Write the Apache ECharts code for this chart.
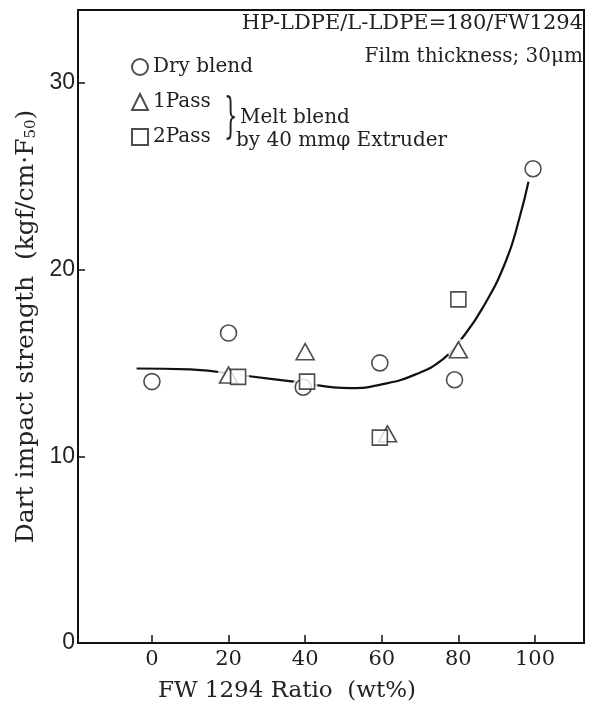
<!DOCTYPE html>
<html>
<head>
<meta charset="utf-8">
<script src="https://cdn.jsdelivr.net/npm/echarts@6/dist/echarts.min.js"></script>
<style>
html,body{margin:0;padding:0;background:#fff;}
#chart{width:606px;height:718px;}
</style>
</head>
<body>
<div id="chart"></div>
<script>
// ---- data ----
const dryX = [0, 20, 39.5, 59.5, 79, 99.5];
const dryY = [14.0, 16.6, 13.7, 15.0, 14.1, 25.4];
const pass1X = [20, 40, 61.5, 80];
const pass1Y = [14.35, 15.6, 11.2, 15.7];
const pass2X = [22.5, 40.5, 59.5, 80];
const pass2Y = [14.25, 14.0, 11.0, 18.4];
const curveX = [-4, 10, 25, 37, 52, 60, 69, 76, 80.5, 86.5, 92.5, 96, 98.3];
const curveY = [14.7, 14.65, 14.3, 14.0, 13.65, 13.85, 14.4, 15.2, 16.2, 18.0, 20.5, 22.8, 24.7];
const xTicks = [0, 20, 40, 60, 80, 100];
const yTicks = [0, 10, 20, 30];
const seriesNames = ['Dry blend', '1Pass', '2Pass'];

const zip = (xs, ys) => xs.map((x, i) => [x, ys[i]]);
const SERIF = 'DejaVu Serif';
const markerStyle = {color: '#fff', borderColor: '#222', borderWidth: 1.6};
const haloStyle = {color: '#fff', borderColor: '#fff', borderWidth: 0};

const chart = echarts.init(document.getElementById('chart'), null, {renderer: 'canvas'});
chart.setOption({
  animation: false,
  backgroundColor: '#fff',
  grid: {left: 78, right: 22, top: 10, bottom: 75, show: true, borderColor: '#111', borderWidth: 2},
  xAxis: {
    type: 'value', min: -19.3, max: 112.8,
    splitLine: {show: false},
    axisLine: {show: true, onZero: false, lineStyle: {color: '#111', width: 2}},
    axisTick: {show: true, inside: true, length: 8, lineStyle: {color: '#111', width: 1.5}, customValues: xTicks},
    axisLabel: {customValues: xTicks, color: '#222', fontFamily: SERIF, fontSize: 21, margin: 6},
    name: 'FW 1294 Ratio  (wt%)',
    nameLocation: 'middle', nameGap: 37,
    nameTextStyle: {fontFamily: SERIF, fontSize: 23, color: '#222', padding: [0, 88, 0, 0]}
  },
  yAxis: {
    type: 'value', min: 0, max: 33.9,
    splitLine: {show: false},
    axisLine: {show: true, onZero: false, lineStyle: {color: '#111', width: 2}},
    axisTick: {show: true, inside: true, length: 7, lineStyle: {color: '#111', width: 1.5}, customValues: yTicks},
    axisLabel: {customValues: yTicks, color: '#222', fontFamily: 'Liberation Sans', fontSize: 23, margin: 3},
    name: 'Dart impact strength  (kgf/cm·F{s|50})',
    nameLocation: 'middle', nameGap: 37, nameRotate: 90,
    nameTextStyle: {fontFamily: SERIF, fontSize: 25, color: '#222',
      rich: {s: {fontFamily: SERIF, fontSize: 15, color: '#222', verticalAlign: 'bottom'}}}
  },
  legend: {
    orient: 'vertical', left: 126, top: 51, itemGap: 13, itemWidth: 16, itemHeight: 16,
    data: seriesNames,
    textStyle: {fontFamily: SERIF, fontSize: 20, color: '#222', lineHeight: 22}
  },
  graphic: [
    {type: 'text', x: 583, y: 24, style: {text: 'HP-LDPE/L-LDPE=180/FW1294', align: 'right', verticalAlign: 'middle', font: '21px "DejaVu Serif"', fill: '#222'}},
    {type: 'text', x: 583, y: 57, style: {text: 'Film thickness; 30μm', align: 'right', verticalAlign: 'middle', font: '20px "DejaVu Serif"', fill: '#222'}},
    {type: 'text', x: 224, y: 120, scaleX: 0.7, scaleY: 1.6, style: {text: '}', align: 'left', verticalAlign: 'middle', font: '30px "DejaVu Serif"', fill: '#222'}},
    {type: 'text', x: 240, y: 118, style: {text: 'Melt blend', align: 'left', verticalAlign: 'middle', font: '20px "DejaVu Serif"', fill: '#222'}},
    {type: 'text', x: 236, y: 141, style: {text: 'by 40 mmφ Extruder', align: 'left', verticalAlign: 'middle', font: '20px "DejaVu Serif"', fill: '#222'}}
  ],
  series: [
    {type: 'line', name: 'curve', data: zip(curveX, curveY), smooth: 0.5, showSymbol: false, symbol: 'none',
     lineStyle: {color: '#111', width: 2.2}, z: 1, silent: true},
    {type: 'scatter', name: 'halo1', data: zip(pass1X, pass1Y), symbol: 'circle', symbolSize: 22, itemStyle: haloStyle, z: 2, silent: true},
    {type: 'scatter', name: 'halo2', data: zip(pass2X, pass2Y), symbol: 'circle', symbolSize: 22, itemStyle: haloStyle, z: 2, silent: true},
    {type: 'scatter', name: 'halo0', data: zip(dryX, dryY), symbol: 'circle', symbolSize: 22, itemStyle: haloStyle, z: 2, silent: true},
    {type: 'scatter', name: seriesNames[0], data: zip(dryX, dryY), symbol: 'circle', symbolSize: 16, itemStyle: markerStyle, z: 5},
    {type: 'scatter', name: seriesNames[1], data: zip(pass1X, pass1Y), symbol: 'triangle', symbolSize: [18, 16], itemStyle: markerStyle, z: 5},
    {type: 'scatter', name: seriesNames[2], data: zip(pass2X, pass2Y), symbol: 'rect', symbolSize: 15, itemStyle: markerStyle, z: 5}
  ]
});
</script>
</body>
</html>
